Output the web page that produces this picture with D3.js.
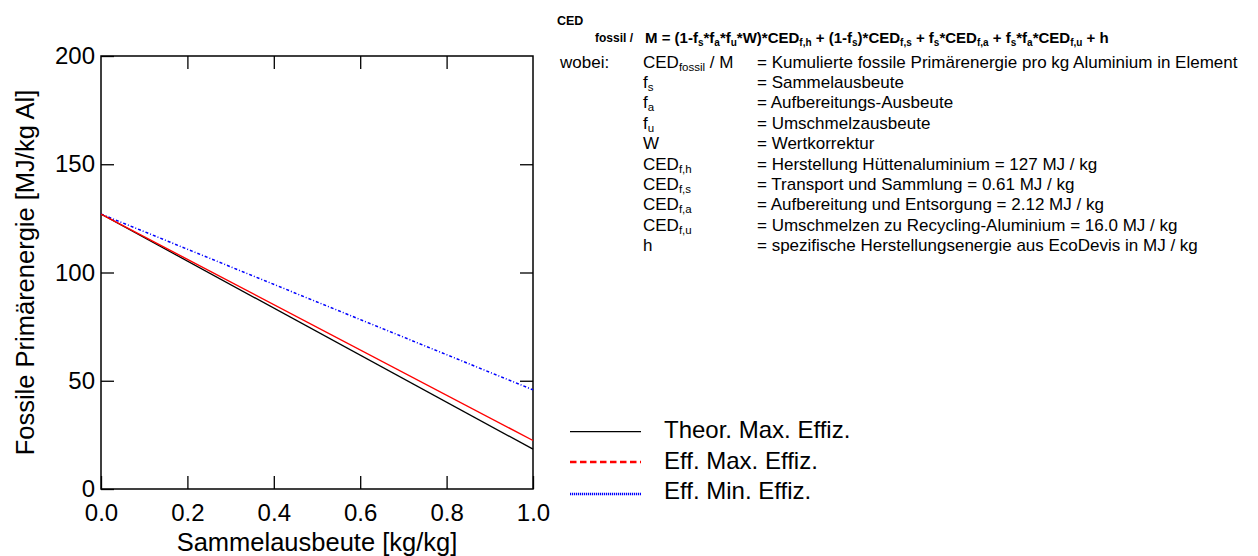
<!DOCTYPE html>
<html><head><meta charset="utf-8">
<script src="https://cdn.jsdelivr.net/npm/d3@7"></script>
<style>
html,body{margin:0;padding:0;background:#fff;}
svg{display:block;}
text{font-family:"Liberation Sans",Arial,sans-serif;}
</style></head>
<body>
<svg id="chart" width="1258" height="556"></svg>
<script>
// ---- data ----
const xValues = [0, 1];
const theorMax = [127, 18.4];
const effMax = [127, 22.4];
const effMin = [127, 45.8];
const xTicks = [0, 0.2, 0.4, 0.6, 0.8, 1.0];
const yTicks = [0, 50, 100, 150, 200];
const seriesNames = ["Theor. Max. Effiz.", "Eff. Max. Effiz.", "Eff. Min. Effiz."];
const xTitle = "Sammelausbeute [kg/kg]";
const yTitle = "Fossile Primärenergie [MJ/kg Al]";
const defRows = [
  [["CED"],["fossil","sub"],[" / M"]],
  [["f"],["s","sub"]],
  [["f"],["a","sub"]],
  [["f"],["u","sub"]],
  [["W"]],
  [["CED"],["f,h","sub"]],
  [["CED"],["f,s","sub"]],
  [["CED"],["f,a","sub"]],
  [["CED"],["f,u","sub"]],
  [["h"]]
];
const defTexts = [
  "= Kumulierte fossile Primärenergie pro kg Aluminium in Element",
  "= Sammelausbeute",
  "= Aufbereitungs-Ausbeute",
  "= Umschmelzausbeute",
  "= Wertkorrektur",
  "= Herstellung Hüttenaluminium = 127 MJ / kg",
  "= Transport und Sammlung = 0.61 MJ / kg",
  "= Aufbereitung und Entsorgung = 2.12 MJ / kg",
  "= Umschmelzen zu Recycling-Aluminium = 16.0 MJ / kg",
  "= spezifische Herstellungsenergie aus EcoDevis in MJ / kg"
];
const formula = [["M = (1-f"],["s","sub"],["*f"],["a","sub"],["*f"],["u","sub"],["*W)*CED"],["f,h","sub"],
  [" + (1-f"],["s","sub"],[")*CED"],["f,s","sub"],[" + f"],["s","sub"],["*CED"],["f,a","sub"],
  [" + f"],["s","sub"],["*f"],["a","sub"],["*CED"],["f,u","sub"],[" + h"]];

// ---- layout ----
const svg = d3.select("#chart");
const L = 101, R = 533, T = 56, B = 489;
const x = d3.scaleLinear().domain([0, 1]).range([L, R]);
const y = d3.scaleLinear().domain([0, 200]).range([B, T]);
const tickLen = 13;

const g = svg.append("g");
const ax = (axis) => g.append("g").call(axis).call(s => {
  s.select(".domain").remove();
  s.selectAll("line").attr("stroke", "#000").attr("stroke-width", 1.3);
});
const axB = ax(d3.axisBottom(x).tickValues(xTicks).tickSize(-tickLen).tickPadding(15).tickFormat(d3.format(".1f")));
axB.attr("transform", `translate(0,${B})`);
axB.selectAll("text").attr("font-size", 24).attr("fill", "#000").attr("font-family", "Liberation Sans, Arial");
const axT = ax(d3.axisTop(x).tickValues(xTicks.slice(1, -1)).tickSize(-tickLen).tickFormat(""));
axT.attr("transform", `translate(0,${T})`);
const axL = ax(d3.axisLeft(y).tickValues(yTicks).tickSize(-tickLen).tickPadding(6).tickFormat(d3.format("d")));
axL.attr("transform", `translate(${L},0)`);
axL.selectAll("text").attr("font-size", 24).attr("fill", "#000").attr("font-family", "Liberation Sans, Arial");
const axR = ax(d3.axisRight(y).tickValues(yTicks.slice(1, -1)).tickSize(-tickLen).tickFormat(""));
axR.attr("transform", `translate(${R},0)`);

// frame
g.append("rect").attr("x", L).attr("y", T).attr("width", R - L).attr("height", B - T)
  .attr("fill", "none").attr("stroke", "#000").attr("stroke-width", 1.5);

// titles
g.append("text").attr("x", (L + R) / 2).attr("y", 551).attr("text-anchor", "middle")
  .attr("font-size", 25.5).text(xTitle);
g.append("text").attr("transform", `translate(34,${(T + B) / 2}) rotate(-90)`).attr("text-anchor", "middle")
  .attr("font-size", 25.5).text(yTitle);

// lines
const styles = [
  {color: "#000", width: 1.3, dash: null, legDash: null, legWidth: 1.3},
  {color: "#ff0000", width: 1.4, dash: null, legDash: "6.5,3.5", legWidth: 2.5},
  {color: "#0000ff", width: 1.5, dash: "3,2,1,2", legDash: "1.2,0.8", legWidth: 2.5}
];
const seriesData = [theorMax, effMax, effMin];
const line = d3.line().x((d, i) => x(xValues[i])).y(d => y(d));
[2, 0, 1].forEach(k => {
  g.append("path").datum(seriesData[k]).attr("d", line).attr("fill", "none")
    .attr("stroke", styles[k].color).attr("stroke-width", styles[k].width)
    .attr("stroke-dasharray", styles[k].dash);
});

// legend
const legLineY = [431.7, 462, 494];
const legTextY = [438.3, 468.5, 499];
seriesNames.forEach((n, k) => {
  g.append("line").attr("x1", 570).attr("x2", 641).attr("y1", legLineY[k]).attr("y2", legLineY[k])
    .attr("stroke", styles[k].color).attr("stroke-width", styles[k].legWidth)
    .attr("stroke-dasharray", styles[k].legDash);
  g.append("text").attr("x", 664).attr("y", legTextY[k]).attr("font-size", 24).text(n);
});

// rich text helper
function rich(sel, parts, size, subSize, subDy, bold) {
  let shifted = false;
  parts.forEach(p => {
    const isSub = p[1] === "sub";
    const ts = sel.append("tspan").text(p[0]).attr("font-size", isSub ? subSize : size);
    if (bold) ts.attr("font-weight", "bold");
    if (isSub && !shifted) { ts.attr("dy", subDy); shifted = true; }
    else if (!isSub && shifted) { ts.attr("dy", -subDy); shifted = false; }
  });
}

// formula
g.append("text").attr("x", 557).attr("y", 25).attr("font-size", 12.5).attr("font-weight", "bold").text("CED");
g.append("text").attr("x", 595).attr("y", 42).attr("font-size", 12).attr("font-weight", "bold").text("fossil /");
const ft = g.append("text").attr("x", 645).attr("y", 42.5);
rich(ft, formula, 15, 10, 3, true);

// definitions
const rowY0 = 67.5, rowDy = 20.4;
g.append("text").attr("x", 560).attr("y", rowY0).attr("font-size", 17).text("wobei:");
defRows.forEach((r, i) => {
  const t = g.append("text").attr("x", 643).attr("y", rowY0 + i * rowDy);
  rich(t, r, 17, 11.5, 3, false);
  g.append("text").attr("x", 757).attr("y", rowY0 + i * rowDy).attr("font-size", 17).text(defTexts[i]);
});
</script>
</body></html>
